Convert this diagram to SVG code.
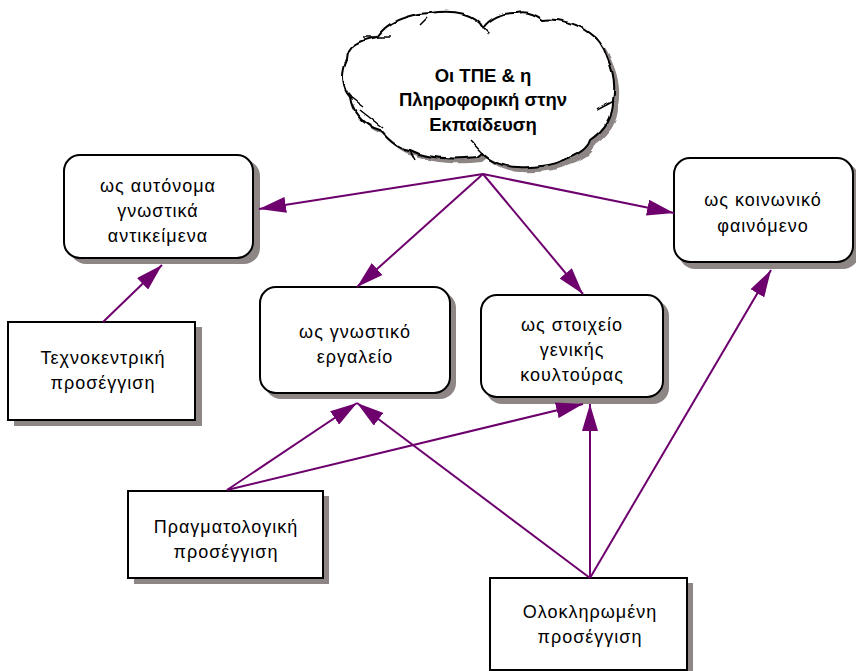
<svg xmlns="http://www.w3.org/2000/svg" width="856" height="671" viewBox="0 0 856 671">
<style>
.box{fill:#fff;stroke:#000;stroke-width:2}
.sh{fill:#8e8585}
.t{font-family:"Liberation Sans",Arial,sans-serif;font-size:18px;fill:#000;text-anchor:middle;letter-spacing:1px}
.tb{font-family:"Liberation Sans",Arial,sans-serif;font-size:18.5px;font-weight:bold;fill:#000;text-anchor:middle}
.c{stroke:#6e006e;stroke-width:2;fill:none;marker-end:url(#ah)}
.tick{stroke:#000;stroke-width:1.5;fill:none}
</style>
<defs>
<marker id="ah" markerUnits="userSpaceOnUse" markerWidth="28" markerHeight="16" refX="27" refY="8" orient="auto">
<path d="M0,0 L27,8 L0,16 Z" fill="#6e006e"/>
</marker>
<filter id="wob" x="-5%" y="-5%" width="110%" height="110%">
<feTurbulence type="fractalNoise" baseFrequency="0.08" numOctaves="1" seed="3" result="n"/>
<feDisplacementMap in="SourceGraphic" in2="n" scale="4" xChannelSelector="R" yChannelSelector="G"/>
</filter>
<path id="cloud" d="M483,28 C476,14 455,9 430,13 C412,14 390,18 377,37 C362,40 347,45 347,60 C340,75 343,90 350,97 C352,112 362,125 380,130 C390,142 400,150 410,150 C425,158 450,160 477,157 L482,153 C490,162 505,167 517,167 C535,168 555,165 563,160 C578,155 588,148 590,140 C605,130 614,115 613,100 C616,85 613,70 607,57 C603,45 598,38 590,33 C578,24 560,18 543,20 C535,14 525,11 517,13 C503,12 490,18 483,28 Z"/>
</defs>
<g id="cloud-node">
<g filter="url(#wob)">
<use href="#cloud" transform="translate(5,5)" class="sh"/>
<use href="#cloud" fill="#fff" stroke="#000" stroke-width="2"/>
<path class="tick" d="M483,28 L489,34 M363,37 L390,37 M350,97 L363,107 M360,110 L383,128 M410,150 L415,160 M470,140 L482,153 M597,110 L614,101 M590,33 L598,40 M420,25 L427,18"/>
</g>
<text class="tb" x="483" y="82">Οι ΤΠΕ &amp; η</text>
<text class="tb" x="483" y="106">Πληροφορική στην</text>
<text class="tb" x="483" y="131">Εκπαίδευση</text>
</g>
<g id="autonoma">
<rect class="sh" x="70" y="160" width="190" height="104" rx="16"/>
<rect class="box" x="64" y="155" width="189" height="103" rx="16"/>
<text class="t" x="158" y="192">ως αυτόνομα</text>
<text class="t" x="158" y="217">γνωστικά</text>
<text class="t" x="158" y="242">αντικείμενα</text>
</g>
<g id="koinoniko">
<rect class="sh" x="679" y="163" width="180" height="106" rx="16"/>
<rect class="box" x="674" y="158" width="179" height="104" rx="16"/>
<text class="t" x="763" y="206">ως κοινωνικό</text>
<text class="t" x="763" y="232">φαινόμενο</text>
</g>
<g id="gnostiko">
<rect class="sh" x="265" y="292" width="191" height="107" rx="16"/>
<rect class="box" x="260" y="287" width="190" height="106" rx="16"/>
<text class="t" x="355" y="338">ως γνωστικό</text>
<text class="t" x="355" y="363">εργαλείο</text>
</g>
<g id="stoixeio">
<rect class="sh" x="486" y="300" width="183" height="104" rx="16"/>
<rect class="box" x="481" y="295" width="182" height="102" rx="16"/>
<text class="t" x="572" y="331">ως στοιχείο</text>
<text class="t" x="572" y="356">γενικής</text>
<text class="t" x="572" y="381">κουλτούρας</text>
</g>
<g id="texnokentriki">
<rect class="sh" x="14" y="327" width="188" height="99"/>
<rect class="box" x="8" y="322" width="187" height="98"/>
<text class="t" x="103" y="364">Τεχνοκεντρική</text>
<text class="t" x="103" y="389">προσέγγιση</text>
</g>
<g id="pragmatologiki">
<rect class="sh" x="134" y="496" width="195" height="88"/>
<rect class="box" x="128" y="491" width="195" height="87"/>
<text class="t" x="226" y="533">Πραγματολογική</text>
<text class="t" x="226" y="558">προσέγγιση</text>
</g>
<g id="olokliromeni">
<rect class="sh" x="496" y="583" width="197" height="95"/>
<rect class="box" x="490" y="578" width="197" height="92"/>
<text class="t" x="590" y="618">Ολοκληρωμένη</text>
<text class="t" x="590" y="643">προσέγγιση</text>
</g>
<g id="connectors">
<line class="c" x1="483" y1="174" x2="259" y2="209"/>
<line class="c" x1="483" y1="174" x2="674" y2="213"/>
<line class="c" x1="483" y1="174" x2="357" y2="287"/>
<line class="c" x1="483" y1="174" x2="583" y2="294"/>
<line class="c" x1="103" y1="322" x2="162" y2="265"/>
<line class="c" x1="227" y1="490" x2="357" y2="403"/>
<line class="c" x1="227" y1="490" x2="583" y2="404"/>
<line class="c" x1="590" y1="578" x2="357" y2="403"/>
<line class="c" x1="590" y1="578" x2="590" y2="404"/>
<line class="c" x1="590" y1="578" x2="771" y2="270"/>
</g>
</svg>
